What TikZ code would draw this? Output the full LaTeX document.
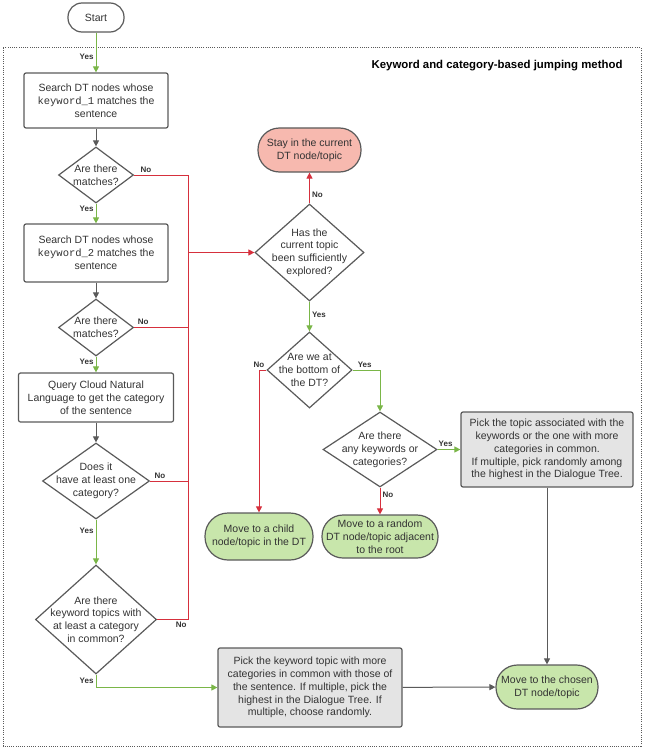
\documentclass[tikz,border=0pt]{standalone}
\usepackage{fontspec}
\setmainfont{Liberation Sans}
\setmonofont{Liberation Mono}
\usetikzlibrary{arrows.meta,shapes.geometric}
\definecolor{edgegray}{HTML}{5A5A5A}
\definecolor{textgray}{HTML}{333333}
\definecolor{yesgreen}{HTML}{7AB648}
\definecolor{nored}{HTML}{D6303D}
\definecolor{stayfill}{HTML}{F7B9AF}
\definecolor{movefill}{HTML}{C8E6AB}
\definecolor{pickfill}{HTML}{E4E4E4}
\begin{document}
\begin{tikzpicture}[x = 1pt, y = -1pt,
    font = \fontsize{10.5}{12.8}\selectfont, text = textgray,
    every node/.style = {align = center},
    box/.style = {draw = edgegray, line width = 1.2pt, rounded corners = 2pt, inner sep = 2pt},
    pill/.style = {box, rounded corners = #1},
    decision/.style = {diamond, draw = edgegray, line width = 1.2pt, inner sep = 0pt},
    arr/.style = {-{Triangle[length = 6pt, width = 6pt]}},
    flow/.style = {draw = edgegray, line width = 1pt},
    yesline/.style = {draw = yesgreen, line width = 1pt},
    noline/.style = {draw = nored, line width = 1pt},
    lab/.style = {font = \bfseries\fontsize{8}{9}\selectfont, inner sep = 2pt}]
  \useasboundingbox (0,0) rectangle (646,749);
  \draw [edgegray, line width = 1pt, dash pattern = on 1pt off 1.2pt] (3,48) rectangle (641,746);
  \node [font = \bfseries\fontsize{11.4}{13}\selectfont, text = black, anchor = east] (title) at (626,66) {Keyword and category-based jumping method};

  \node [pill = 14pt, minimum width = 56, minimum height = 29] (start) at (96,17.5) {Start};
  \node [box, minimum width = 144, minimum height = 55] (search1) at (96,100.5) {Search DT nodes whose\\\texttt{keyword\_1} matches the\\sentence};
  \node [decision, minimum width = 75, minimum height = 56, label = center:{Are there\\matches?}] (match1) at (96,175) {};
  \node [box, minimum width = 144, minimum height = 58] (search2) at (96,253) {Search DT nodes whose\\\texttt{keyword\_2} matches the\\sentence};
  \node [decision, minimum width = 75, minimum height = 57, label = center:{Are there\\matches?}] (match2) at (96,327.5) {};
  \node [box, minimum width = 155, minimum height = 49] (query) at (96,397.5) {Query Cloud Natural\\Language to get the category\\of the sentence};
  \node [decision, minimum width = 107, minimum height = 76, label = center:{Does it\\have at least one\\category?}] (hascat) at (96,481) {};
  \node [decision, minimum width = 121, minimum height = 109, label = center:{Are there\\keyword topics with\\at least a category\\in common?}] (common) at (96,619.5) {};

  \node [decision, minimum width = 109, minimum height = 97, label = center:{Has the\\current topic\\been sufficiently\\explored?}] (explored) at (309.5,252.5) {};
  \node [pill = 21.5pt, fill = stayfill, minimum width = 103, minimum height = 44] (stay) at (309.5,150) {Stay in the current\\DT node/topic};
  \node [decision, minimum width = 85, minimum height = 76, label = center:{Are we at\\the bottom of\\the DT?}] (bottom) at (309.5,370) {};
  \node [decision, minimum width = 114, minimum height = 75, label = center:{Are there\\any keywords or\\categories?}] (anykey) at (380,449.5) {};
  \node [pill = 23pt, fill = movefill, minimum width = 108, minimum height = 47] (child) at (259,536.5) {Move to a child\\node/topic in the DT};
  \node [pill = 21pt, fill = movefill, minimum width = 116, minimum height = 43] (random) at (380,536.5) {Move to a random\\DT node/topic adjacent\\to the root};
  \node [box, fill = pickfill, minimum width = 172, minimum height = 75] (pickany) at (547,449.5) {Pick the topic associated with the\\keywords or the one with more\\categories in common.\\If multiple, pick randomly among\\the highest in the Dialogue Tree.};
  \node [pill = 21.5pt, fill = movefill, minimum width = 102, minimum height = 44, inner sep = 0pt] (chosen) at (547,687) {Move to the chosen\\DT node/topic};
  \node [box, fill = pickfill, minimum width = 184, minimum height = 79] (pickkey) at (310,687.5) {Pick the keyword topic with more\\categories in common with those of\\the sentence. If multiple, pick the\\highest in the Dialogue Tree. If\\multiple, choose randomly.};

  \coordinate (trunk) at (188,252.5);
  \draw [arr, yesline] (start) -- node [lab, left, pos = .6] {Yes} (search1);
  \draw [arr, flow] (search1) -- (match1);
  \draw [arr, yesline] (match1) -- node [lab, left, pos = .25] {Yes} (search2);
  \draw [arr, flow] (search2) -- (match2);
  \draw [arr, yesline] (match2) -- node [lab, left, pos = .3] {Yes} (query);
  \draw [arr, flow] (query) -- (hascat);
  \draw [arr, yesline] (hascat) -- node [lab, left, pos = .25] {Yes} (common);
  \draw [arr, yesline] (common) |- node [lab, left, pos = .25] {Yes} (pickkey);

  \draw [noline] (match1.east) -- node [lab, above, pos = .22] {No} (match1.east -| trunk) -- (common.east -| trunk);
  \draw [noline] (match2.east) -- node [lab, above, pos = .17] {No} (match2.east -| trunk);
  \draw [noline] (hascat.east) -- node [lab, above, pos = .26] {No} (hascat.east -| trunk);
  \draw [noline] (common.east) -- node [lab, below, pos = .78] {No} (common.east -| trunk);
  \draw [arr, noline] (trunk) -- (explored);

  \draw [arr, noline] (explored) -- node [lab, right, pos = .28] {No} (stay);
  \draw [arr, yesline] (explored) -- node [lab, right, pos = .45] {Yes} (bottom);
  \draw [arr, noline] (bottom) -| node [lab, above, pos = .5] {No} (child);
  \draw [arr, yesline] (bottom) -| node [lab, above right, pos = .05] {Yes} (anykey);
  \draw [arr, yesline] (anykey) -- node [lab, above, pos = .35] {Yes} (pickany);
  \draw [arr, noline] (anykey) -- node [lab, right, pos = .25] {No} (random);
  \draw [arr, flow] (pickany) -- (chosen);
  \draw [arr, flow] (pickkey) -- (chosen);
\end{tikzpicture}
\end{document}
